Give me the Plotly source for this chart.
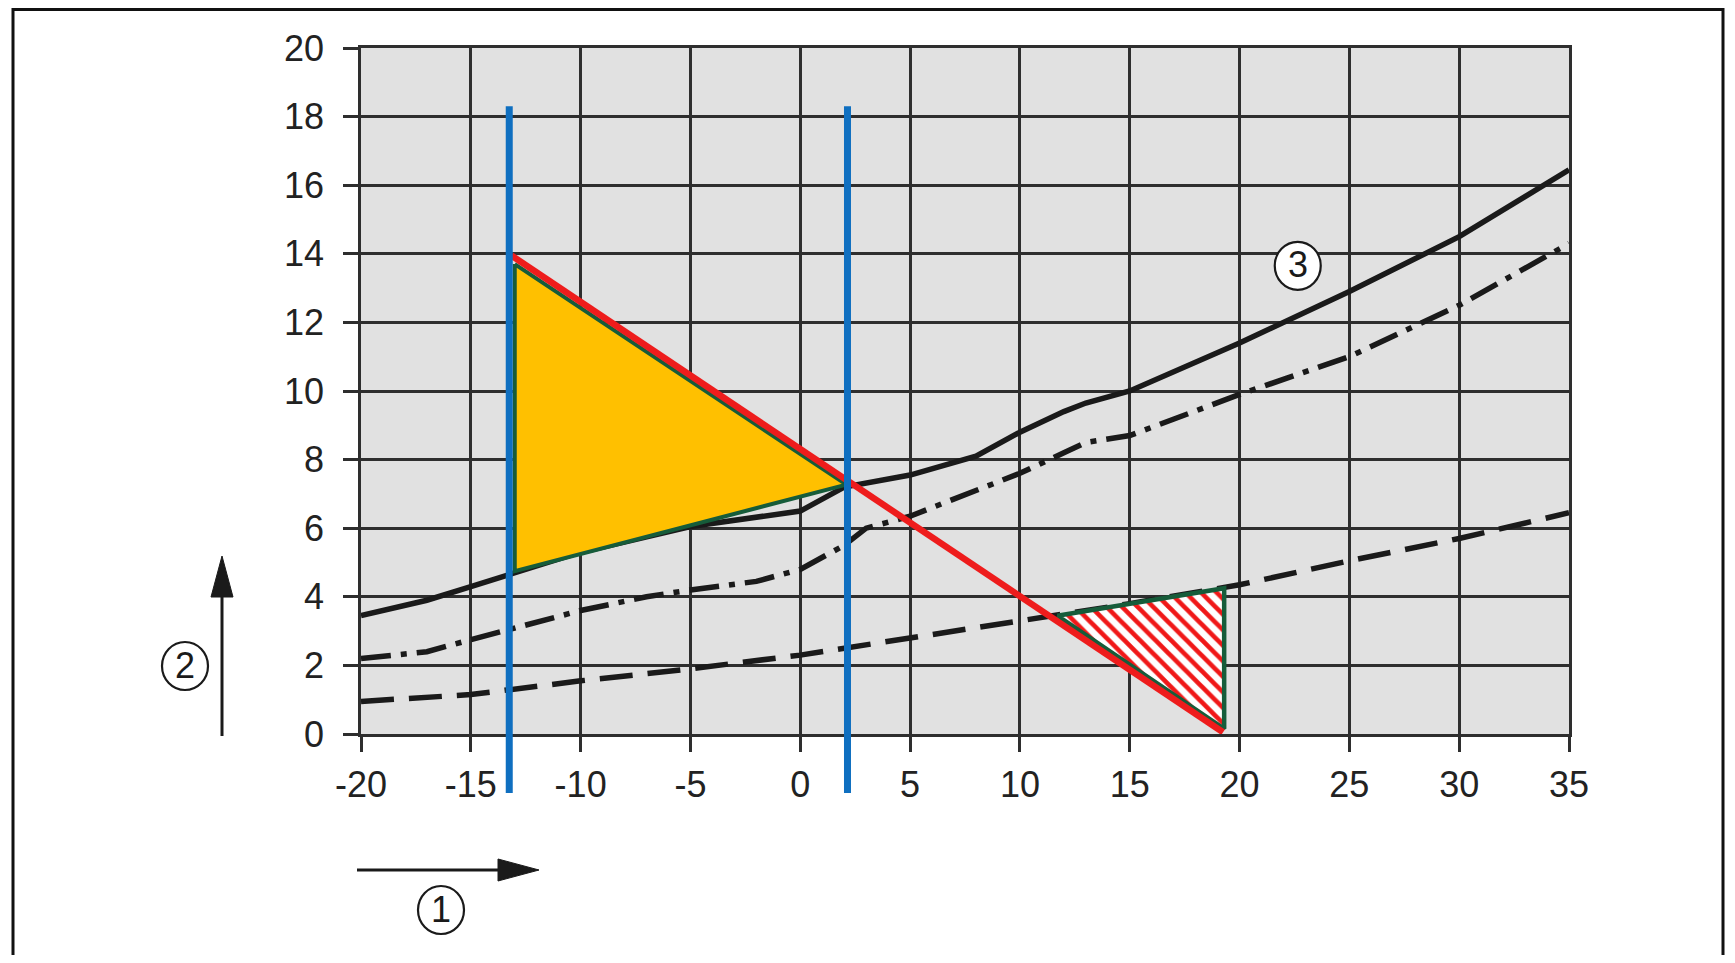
import plotly.graph_objects as go

# ---- data ----
X_SOLID = [-20, -17, -15, -13, -10, -5, 0, 2, 5, 8, 10, 12, 13, 15, 20, 25, 30, 35]
Y_SOLID = [3.45, 3.9, 4.3, 4.7, 5.3, 6.05, 6.5, 7.2, 7.55, 8.1, 8.8, 9.4, 9.65, 10.0, 11.4, 12.9, 14.5, 16.45]

X_DASHDOT = [-20, -17, -15, -10, -7, -5, -2, 0, 2, 3, 5, 10, 12, 13, 15, 20, 25, 27, 30, 35]
Y_DASHDOT = [2.2, 2.4, 2.75, 3.6, 4.0, 4.2, 4.45, 4.8, 5.5, 6.0, 6.35, 7.6, 8.2, 8.5, 8.7, 9.9, 11.0, 11.6, 12.5, 14.3]

X_DASHED = [-20, -15, -10, -5, 0, 5, 10, 15, 20, 25, 30, 35]
Y_DASHED = [0.95, 1.15, 1.55, 1.9, 2.3, 2.8, 3.3, 3.8, 4.35, 5.05, 5.7, 6.45]

# filled triangle (yellow) and hatched triangle
X_YELLOW = [-13.0, 2.1, -13.0]
Y_YELLOW = [13.7, 7.27, 4.75]
X_HATCH = [11.7, 19.3, 19.3]
Y_HATCH = [3.45, 4.25, 0.15]

# red limit line
X_RED = [-13.15, 19.25]
Y_RED = [13.95, 0.05]

# blue vertical markers: x positions and vertical extent (data units)
X_BLUE = [-13.25, 2.15]
Y_BLUE = [-1.72, 18.3]

X_TICKS = list(range(-20, 40, 5))
Y_TICKS = list(range(0, 22, 2))
X_RANGE = [-20, 35]
Y_RANGE = [0, 20]

# ---- page geometry (window pixels) ----
W, H = 1735, 963
OFF = 8  # default body margin of the page
PLOT_L, PLOT_R, PLOT_T, PLOT_B = 361, 1569, 48, 734
FW, FH = W - 2 * OFF, H - 2 * OFF
ML, MT = PLOT_L - OFF, PLOT_T - OFF
MR, MB = FW + OFF - PLOT_R, FH + OFF - PLOT_B
PW = PLOT_R - PLOT_L
PH = PLOT_B - PLOT_T

FONT = "Liberation Sans, Arial, Helvetica, sans-serif"
GREEN = "#165c3a"
INK = "#1a1a1a"
GRID = "#2e2e2e"


def px(x):
    return (x - PLOT_L) / PW


def py(y):
    return (PLOT_B - y) / PH


def yfrac(v):
    return (v - Y_RANGE[0]) / (Y_RANGE[1] - Y_RANGE[0])


fig = go.Figure()

fig.add_trace(go.Scatter(x=X_DASHED, y=Y_DASHED, mode="lines",
                         line=dict(color=INK, width=5.5, dash="33px,15px")))
fig.add_trace(go.Scatter(x=X_DASHDOT, y=Y_DASHDOT, mode="lines",
                         line=dict(color=INK, width=5.5, dash="30px,10px,6px,10px")))
fig.add_trace(go.Scatter(x=X_SOLID, y=Y_SOLID, mode="lines",
                         line=dict(color=INK, width=5.5)))

fig.add_trace(go.Scatter(x=X_YELLOW + X_YELLOW[:1], y=Y_YELLOW + Y_YELLOW[:1],
                         mode="lines", fill="toself", fillcolor="#ffc000",
                         line=dict(color=GREEN, width=4)))
fig.add_trace(go.Scatter(x=X_HATCH + X_HATCH[:1], y=Y_HATCH + Y_HATCH[:1],
                         mode="lines", fill="toself",
                         fillpattern=dict(shape="\\", fgcolor="#f01818", bgcolor="white",
                                          size=11, solidity=0.42, fillmode="replace"),
                         line=dict(color=GREEN, width=4.5)))
fig.add_trace(go.Scatter(x=X_RED, y=Y_RED, mode="lines",
                         line=dict(color="#ee1c1c", width=6.5)))

shapes = []
# blue verticals run past the bottom of the plot, so y is in paper units
for xb in X_BLUE:
    shapes.append(dict(type="line", xref="x", yref="paper", x0=xb, x1=xb,
                       y0=yfrac(Y_BLUE[0]), y1=yfrac(Y_BLUE[1]),
                       line=dict(color="#0f6fc0", width=7), layer="above"))

# outer frame (bottom edge runs off the page)
shapes.append(dict(type="rect", xref="paper", yref="paper",
                   x0=px(13), x1=px(1723), y0=py(990), y1=py(9.5),
                   line=dict(color="#111", width=3)))

# axis direction arrows
shapes.append(dict(type="line", xref="paper", yref="paper",
                   x0=px(357), x1=px(505), y0=py(870), y1=py(870),
                   line=dict(color=INK, width=3)))
shapes.append(dict(type="path", xref="paper", yref="paper",
                   path=f"M {px(498)},{py(859)} L {px(539)},{py(870)} L {px(498)},{py(881)} Z",
                   fillcolor=INK, line=dict(color=INK, width=1)))
shapes.append(dict(type="line", xref="paper", yref="paper",
                   x0=px(222), x1=px(222), y0=py(736), y1=py(590),
                   line=dict(color=INK, width=3)))
shapes.append(dict(type="path", xref="paper", yref="paper",
                   path=f"M {px(211)},{py(597)} L {px(222)},{py(556)} L {px(233)},{py(597)} Z",
                   fillcolor=INK, line=dict(color=INK, width=1)))

# circled numbers
circles = [
    dict(xref="x", yref="y", x=22.65, y=13.65, text="3", fill="white"),
    dict(xref="paper", yref="paper", x=px(441), y=py(910), text="1", fill="rgba(0,0,0,0)"),
    dict(xref="paper", yref="paper", x=px(185), y=py(666), text="2", fill="rgba(0,0,0,0)"),
]
annotations = []
for c in circles:
    shapes.append(dict(type="circle", xref=c["xref"], yref=c["yref"],
                       xsizemode="pixel", ysizemode="pixel",
                       xanchor=c["x"], yanchor=c["y"],
                       x0=-23, x1=23, y0=-24, y1=24,
                       fillcolor=c["fill"], line=dict(color=INK, width=2.2), layer="above"))
    annotations.append(dict(xref=c["xref"], yref=c["yref"], x=c["x"], y=c["y"],
                            xanchor="center", yanchor="middle", yshift=1,
                            text=c["text"], showarrow=False,
                            font=dict(family=FONT, size=36, color=INK)))

axis_common = dict(
    showgrid=True, gridcolor=GRID, gridwidth=2.5,
    showline=True, linecolor=GRID, linewidth=2.5, mirror=True,
    ticks="outside", ticklen=15, tickwidth=2.5, tickcolor=GRID,
    zeroline=False, tickfont=dict(family=FONT, size=36, color="#222"),
)

fig.update_layout(
    width=FW, height=FH,
    margin=dict(l=ML, r=MR, t=MT, b=MB),
    paper_bgcolor="white", plot_bgcolor="#e1e1e1",
    showlegend=False,
    xaxis=dict(range=X_RANGE, tickvals=X_TICKS, ticktext=[str(v) for v in X_TICKS],
               ticklabelstandoff=2, **axis_common),
    yaxis=dict(range=Y_RANGE, tickvals=Y_TICKS, ticktext=[str(v) for v in Y_TICKS],
               ticklabelstandoff=12, **axis_common),
    shapes=shapes,
    annotations=annotations,
)

fig.write_html("out.html")
